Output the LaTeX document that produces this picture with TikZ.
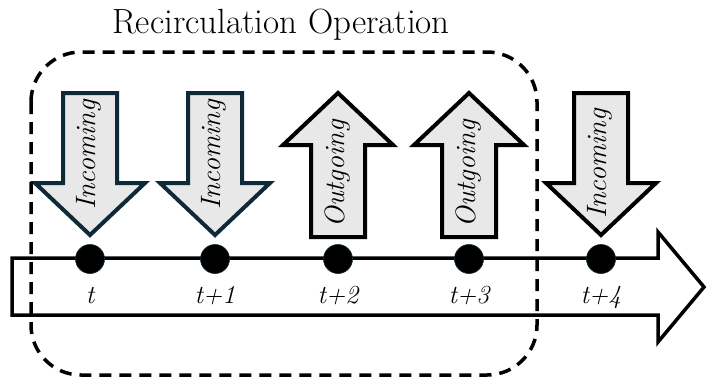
\documentclass[tikz,border=0pt]{standalone}
\begin{document}
\begin{tikzpicture}[x=1pt,y=-1pt,
  timeline/.style={draw=black,line width=3.5pt,line join=miter},
  flowbox/.style={fill=arrowfill,line width=4pt,line join=miter},
  dot/.style={circle,fill=black,draw=navyline,line width=0.6pt,inner sep=0pt,minimum size=29pt},
  steplabel/.style={font=\fontsize{26}{28}\selectfont\itshape,anchor=base},
  flowlabel/.style={font=\fontsize{28}{30}\selectfont\itshape,rotate=90,anchor=center},
  groupbox/.style={draw=black,line width=3.5pt,dash pattern=on 12pt off 8pt,rounded corners=50pt}]
\definecolor{arrowfill}{HTML}{E8E8E8}
\definecolor{navyline}{HTML}{0E2A38}
\useasboundingbox (0,0) rectangle (708,381);

% time axis as a hollow block arrow
\draw[timeline] (12,258) -- (658,258) -- (658,232) -- (704,287)
  -- (658,342) -- (658,315) -- (12,315) -- cycle;

% incoming (down) and outgoing (up) block arrows
\def\downflow#1#2{%
  \draw[flowbox,draw=#2] (#1-27,93) -- (#1+27,93) -- (#1+27,183) -- (#1+55,183)
    -- (#1,235) -- (#1-55,183) -- (#1-27,183) -- cycle;}
\def\upflow#1{%
  \draw[flowbox,draw=black] (#1,93) -- (#1+55,145) -- (#1+27,145) -- (#1+27,237)
    -- (#1-27,237) -- (#1-27,145) -- (#1-55,145) -- cycle;}
\downflow{90}{navyline}
\downflow{215}{navyline}
\upflow{338}
\upflow{469}
\downflow{601}{black}

\node[flowlabel] (in0) at (89,155) {Incoming};
\node[flowlabel] (in1) at (214,155) {Incoming};
\node[flowlabel] (out2) at (337,174) {Outgoing};
\node[flowlabel] (out3) at (468,174) {Outgoing};
\node[flowlabel] (in4) at (600,164) {Incoming};

% time steps
\foreach \x/\n/\lab in {90/0/t, 215/1/t+1, 338/2/t+2, 469/3/t+3, 601/4/t+4} {
  \node[dot] (d\n) at (\x,259) {};
  \node[steplabel] (l\n) at (\x,303) {\lab};
}

% recirculation group
\draw[groupbox] (31,52) rectangle (537,375);
\node[font=\fontsize{35}{40}\selectfont,anchor=base] (title) at (281,33) {Recirculation Operation};
\end{tikzpicture}
\end{document}
